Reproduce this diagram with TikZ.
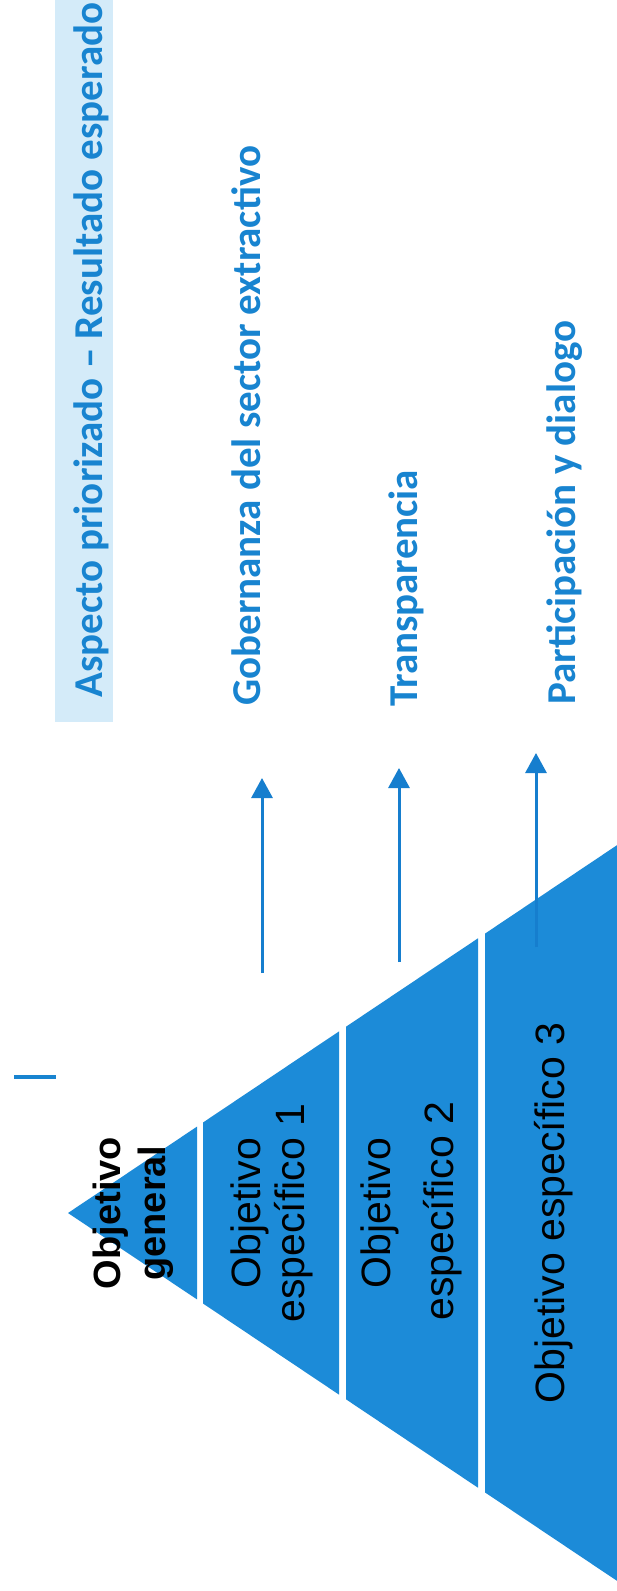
\documentclass[tikz,border=0pt]{standalone}
\usepackage{fontspec}
\setmainfont{Liberation Sans}
\newfontfamily\bluefont{Carlito}
\usetikzlibrary{arrows.meta}
\definecolor{triblue}{RGB}{28,139,216}
\definecolor{txtblue}{RGB}{24,132,208}
\definecolor{arrblue}{RGB}{22,126,206}
\definecolor{paleblue}{RGB}{212,235,249}
\begin{document}
\begin{tikzpicture}[x=1pt,y=-1pt,
  band/.style={fill=triblue,draw=none},
  bluelabel/.style={rotate=90,anchor=base west,inner sep=0pt,text=txtblue,
    font=\bluefont\bfseries\fontsize{41}{49}\selectfont},
  blackbold/.style={rotate=90,anchor=base,inner sep=0pt,text=black,
    font=\bfseries\fontsize{38}{45}\selectfont},
  blackreg/.style={rotate=90,anchor=base,inner sep=0pt,text=black,
    font=\fontsize{41}{49}\selectfont},
  uparrow/.style={draw=arrblue,line width=3pt,-{Triangle[width=21pt,length=20pt]}}]
\useasboundingbox (0,0) rectangle (617,1591);
\clip (0,0) rectangle (617,1591);
\fill[white] (0,0) rectangle (617,1591);
% header box
\fill[paleblue] (55,-5) rectangle (113,722);
% pyramid bands
\fill[band] (68,1213) -- (197,1126.6) -- (197,1299.4) -- cycle;
\fill[band] (203,1122.5) -- (339,1031.4) -- (339,1394.6) -- (203,1303.5) -- cycle;
\fill[band] (346,1026.7) -- (478,938.3) -- (478,1487.7) -- (346,1399.3) -- cycle;
\fill[band] (485,933.6) -- (720,776.2) -- (720,1649.8) -- (485,1492.4) -- cycle;
% small dash
\coordinate (d1) at (14,1077);
\coordinate (d2) at (56,1077);
\draw[txtblue,line width=3.5pt] (d1) -- (d2);
% blue labels
\node[bluelabel] (asp) at (102,698) {Aspecto priorizado – Resultado esperado};
\node[bluelabel] (gob) at (260,706) {Gobernanza del sector extractivo};
\node[bluelabel] (tra) at (417,707) {Transparencia};
\node[bluelabel] (par) at (575,705) {Participación y dialogo};
% arrows
\coordinate (t1) at (262,973); \coordinate (h1) at (262,778);
\coordinate (t2) at (399,962); \coordinate (h2) at (399,768);
\coordinate (t3) at (536,947); \coordinate (h3) at (536,753);
\draw[uparrow] (t1) -- (h1);
\draw[uparrow] (t2) -- (h2);
\draw[uparrow] (t3) -- (h3);
% black labels
\node[blackbold] (og1) at (120,1213) {Objetivo};
\node[blackbold] (og2) at (165,1213) {general};
\node[blackreg] (e1a) at (260,1213) {Objetivo};
\node[blackreg] (e1b) at (304,1213) {específico 1};
\node[blackreg] (e2a) at (390,1213) {Objetivo};
\node[blackreg] (e2b) at (453,1211) {específico 2};
\node[blackreg] (e3) at (564,1213) {Objetivo específico 3};
\end{tikzpicture}
\end{document}
